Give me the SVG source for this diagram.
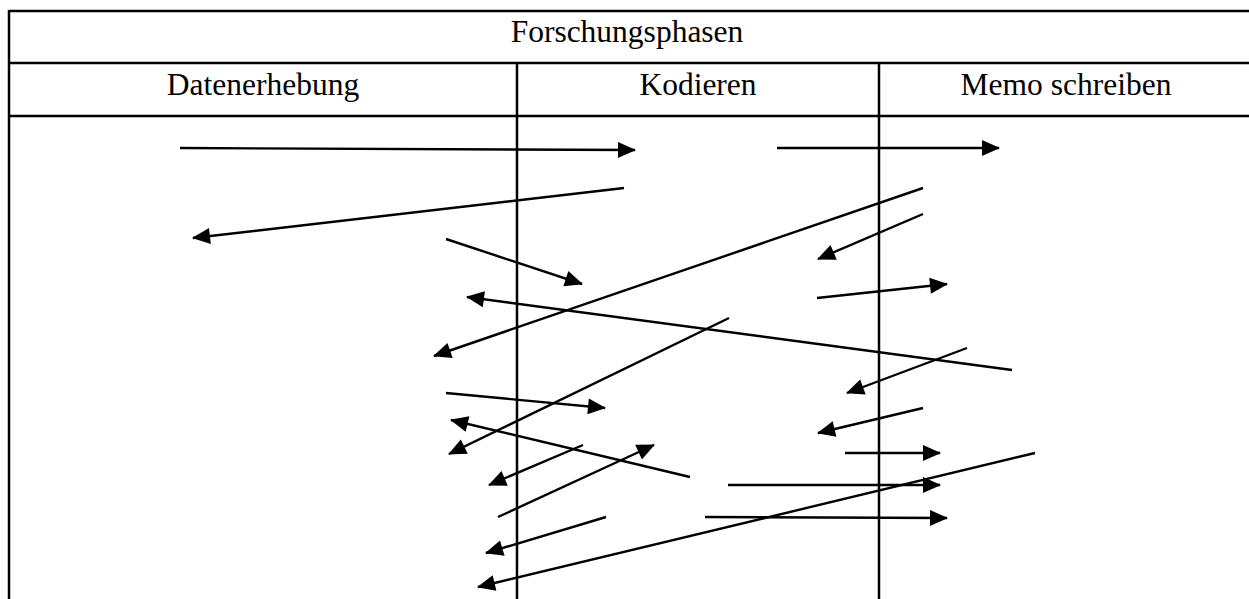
<svg xmlns="http://www.w3.org/2000/svg" width="1249" height="599" viewBox="0 0 1249 599">
  <style>
    .grid { stroke: #000; stroke-width: 2.5; fill: none; }
    .lbl { font-family: "Liberation Serif", "Times New Roman", serif; font-size: 31.5px; fill: #000; text-anchor: middle; }
    .arr { stroke: #000; stroke-width: 2.4; fill: none; marker-end: url(#head); }
  </style>
  <defs>
    <marker id="head" markerUnits="userSpaceOnUse" markerWidth="22" markerHeight="18" refX="17" refY="8" orient="auto" overflow="visible">
      <path d="M0,0 L18,8 L0,16 Z" fill="#000"/>
    </marker>
  </defs>
  <rect width="1249" height="599" fill="#fff"/>

  <!-- table frame: open on the right, rows for title, phases and body -->
  <g id="table">
    <line class="grid" x1="9" y1="11" x2="1249" y2="11"/>
    <line class="grid" x1="9" y1="63" x2="1249" y2="63"/>
    <line class="grid" x1="9" y1="116" x2="1249" y2="116"/>
    <line class="grid" x1="9" y1="10" x2="9" y2="599"/>
    <line class="grid" x1="517" y1="63" x2="517" y2="599"/>
    <line class="grid" x1="879" y1="63" x2="879" y2="599"/>
  </g>

  <g id="title"><text class="lbl" x="627" y="42">Forschungsphasen</text></g>
  <g id="phase-datenerhebung"><text class="lbl" x="263" y="95">Datenerhebung</text></g>
  <g id="phase-kodieren"><text class="lbl" x="698" y="95">Kodieren</text></g>
  <g id="phase-memo"><text class="lbl" x="1066" y="95">Memo schreiben</text></g>

  <!-- back-and-forth movements between phases -->
  <g id="connectors">
    <line class="arr" x1="180" y1="148" x2="635" y2="150"/>
    <line class="arr" x1="624" y1="188" x2="193" y2="238"/>
    <line class="arr" x1="446" y1="239" x2="582" y2="284"/>
    <line class="arr" x1="777" y1="148" x2="999" y2="148"/>
    <line class="arr" x1="923" y1="188" x2="434" y2="356"/>
    <line class="arr" x1="923" y1="214" x2="818" y2="259"/>
    <line class="arr" x1="817" y1="298" x2="947" y2="284"/>
    <line class="arr" x1="1012" y1="370" x2="467" y2="297"/>
    <line class="arr" x1="729" y1="318" x2="449" y2="454"/>
    <line class="arr" x1="446" y1="393" x2="605" y2="408"/>
    <line class="arr" x1="690" y1="477" x2="451" y2="420"/>
    <line class="arr" x1="967" y1="348" x2="847" y2="393"/>
    <line class="arr" x1="923" y1="408" x2="818" y2="433"/>
    <line class="arr" x1="583" y1="445" x2="489" y2="485"/>
    <line class="arr" x1="498" y1="517" x2="654" y2="445"/>
    <line class="arr" x1="606" y1="517" x2="486" y2="553"/>
    <line class="arr" x1="1035" y1="453" x2="478" y2="587"/>
    <line class="arr" x1="845" y1="453" x2="940" y2="453"/>
    <line class="arr" x1="728" y1="485" x2="940" y2="485"/>
    <line class="arr" x1="705" y1="517" x2="947" y2="518"/>
  </g>
</svg>
